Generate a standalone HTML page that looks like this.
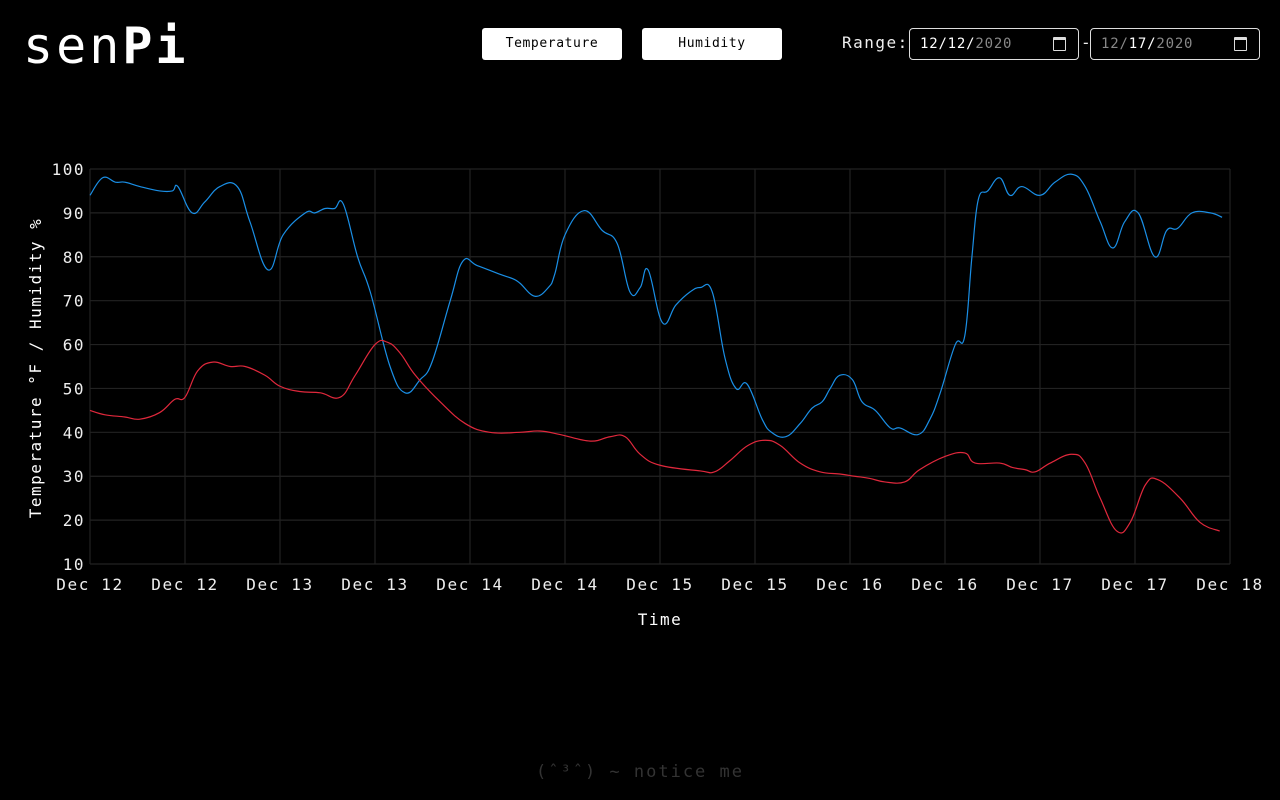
<!DOCTYPE html>
<html><head><meta charset="utf-8">
<style>
body{margin:0;background:#000;width:1280px;height:800px;overflow:hidden;font-family:"DejaVu Sans Mono","Liberation Mono",monospace;color:#eee;position:relative}
.logo{position:absolute;left:23px;top:16px;font-size:50px;letter-spacing:3px;color:#fff;line-height:60px}
.logo b{font-weight:bold}
.btn{position:absolute;top:28px;width:140px;height:32px;background:#fff;border-radius:3px;color:#000;font-size:13px;letter-spacing:0.6px;text-align:center;line-height:32px}
.rl{position:absolute;left:842px;top:33px;font-size:16px;letter-spacing:1.5px;color:#eee}
.inp{position:absolute;top:28px;width:168px;height:30px;border:1px solid #ddd;border-radius:4px;font-size:14px;letter-spacing:0.8px;line-height:30px;box-sizing:content-box}
.inp span{position:absolute;left:10px}
.cal{position:absolute;right:12px;top:8px;width:11px;height:10px;border:1.5px solid #ddd;border-top-width:3px;border-radius:1px}
.foot{position:absolute;left:0;width:1280px;top:762px;text-align:center;color:#333;font-size:17px;letter-spacing:2px}
</style></head><body>
<div class="logo">sen<b>Pi</b></div>
<div class="btn" style="left:482px">Temperature</div>
<div class="btn" style="left:642px">Humidity</div>
<div class="rl">Range:</div>
<div class="inp" style="left:909px"><span><span style="position:static;color:#fff">12/12/</span><span style="position:static;color:#888">2020</span></span><div class="cal"></div></div>
<div style="position:absolute;left:1081px;top:33px;font-size:16px">-</div>
<div class="inp" style="left:1090px"><span><span style="position:static;color:#888">12/</span><span style="position:static;color:#fff">17/</span><span style="position:static;color:#888">2020</span></span><div class="cal"></div></div>
<svg id="chart" width="1280" height="800" style="position:absolute;left:0;top:0"></svg>
<div class="foot">(ˆ³ˆ) ~ notice me</div>
<script>
const yTicks=[10,20,30,40,50,60,70,80,90,100];
const xTickLabels=["Dec 12","Dec 12","Dec 13","Dec 13","Dec 14","Dec 14","Dec 15","Dec 15","Dec 16","Dec 16","Dec 17","Dec 17","Dec 18"];
const humHours=[0,1.6,3.2,4.4,6.3,8.8,10.4,11.1,12.9,14.5,16.4,18.6,20.2,22.5,24.4,27.2,28.4,29.7,30.9,32.0,33.8,35.4,37.9,39.8,41.7,43.2,45.5,47.1,48.9,51.8,53.4,54.3,56.2,57.9,58.7,60.0,62.4,64.7,66.6,68.2,69.5,70.5,72.3,74.0,75.8,77.1,78.6,80.2,81.6,83.0,84.9,86.1,87.9,89.7,91.2,92.5,93.5,94.7,96.3,97.5,99.2,101.1,102.3,104.6,106.1,107.4,109.3,110.5,111.4,112.2,113.4,114.9,116.2,117.7,120.0,121.9,124.0,125.7,127.6,129.2,130.7,132.4,134.5,136.0,137.4,139.2,141.5,143.0];
const humValues=[94,98,97,97,96,95,95,96,90,92.5,96,96,88,77,85,90,90,91,91,92,80,72,55,49,52,56,70,79,78,76,75,74,71,73,76,85,90.5,86,83,72,73,77,65,69,72,73,72,57,50,51,43,40,39,42,45.5,47,50,53,52,47,45,41,41,39.5,43,49,60,62,80,93,95,98,94,96,94,97,98.8,96,88,82,88,90,80,86,86.5,90,90,89];
const tempHours=[0,1.9,4.4,6.3,8.8,10.7,12.0,13.6,15.5,17.7,19.6,22.1,24.0,26.5,29.1,31.6,33.5,36.0,37.6,39.2,41.1,44.2,47.4,50.5,54.3,56.8,59.4,63.2,65.7,67.6,69.5,72.0,77.1,78.9,80.8,83.1,85.3,87.2,89.7,92.2,94.7,96.6,98.5,100.4,102.9,104.8,108.0,110.5,111.8,114.9,116.5,118.1,119.4,121.3,124.0,125.7,127.6,129.7,131.4,133.3,134.9,137.7,140.2,142.7];
const tempValues=[45,44,43.5,43,44.5,47.5,48,54,56,55,55,53,50.5,49.3,49,48,53,60,60.5,58,53,47,42,40,40,40.3,39.5,38,39,39,35,32.5,31.2,31,33.5,37,38.2,37,33,31,30.5,30,29.5,28.7,28.7,31.5,34.5,35.3,33,33,32,31.5,31,33,35,33,25,17.5,19.5,28,29.2,25,19.5,17.5];
const L=90,R=1230,T=169,B=564,HMAX=144;
const FF='DejaVu Sans Mono, Liberation Mono, monospace';
const xs=h=>L+(R-L)*h/HMAX, ys=v=>B-(B-T)*(v-10)/90;
const svg=document.getElementById('chart');const NS='http://www.w3.org/2000/svg';
function mk(t,a){const e=document.createElementNS(NS,t);for(const k in a)e.setAttribute(k,a[k]);svg.appendChild(e);return e;}
yTicks.forEach(v=>{const l=mk('line',{x1:L,x2:R,y1:ys(v),y2:ys(v),stroke:'#222','stroke-width':1.2});


const t=mk('text',{x:L-5,y:ys(v)+6,'text-anchor':'end','font-size':16,'letter-spacing':1.5,fill:'#eee','font-family':FF});t.textContent=v;

});
xTickLabels.forEach((s,i)=>{const h=i*HMAX/(xTickLabels.length-1);const l=mk('line',{x1:xs(h),x2:xs(h),y1:T,y2:B,stroke:'#222','stroke-width':1.2});


const t=mk('text',{x:xs(h),y:590,'text-anchor':'middle','font-size':16,'letter-spacing':1.6,fill:'#eee','font-family':FF});t.textContent=s;

});
function path(hs,vs){const p=hs.map((h,i)=>[xs(h),ys(vs[i])]);let d='M'+p[0][0]+','+p[0][1];const k=0.2;
for(let i=0;i<p.length-1;i++){const p0=p[Math.max(0,i-1)],p1=p[i],p2=p[i+1],p3=p[Math.min(p.length-1,i+2)];
d+=' C'+(p1[0]+(p2[0]-p0[0])*k)+','+(p1[1]+(p2[1]-p0[1])*k)+' '+(p2[0]-(p3[0]-p1[0])*k)+','+(p2[1]-(p3[1]-p1[1])*k)+' '+p2[0]+','+p2[1];}return d;}
const hp=mk('path',{d:path(humHours,humValues),fill:'none',stroke:'#1a8fe6','stroke-width':1.2});


const tp=mk('path',{d:path(tempHours,tempValues),fill:'none',stroke:'#e0283c','stroke-width':1.2});


const xt=mk('text',{x:660,y:625,'text-anchor':'middle','font-size':16,'letter-spacing':1.5,fill:'#fff','font-family':FF});xt.textContent='Time';


const yt=mk('text',{x:0,y:0,transform:'translate(41,368) rotate(-90)','text-anchor':'middle','font-size':16,'letter-spacing':1.5,fill:'#fff','font-family':FF});yt.textContent='Temperature °F / Humidity %';


</script>
</body></html>
